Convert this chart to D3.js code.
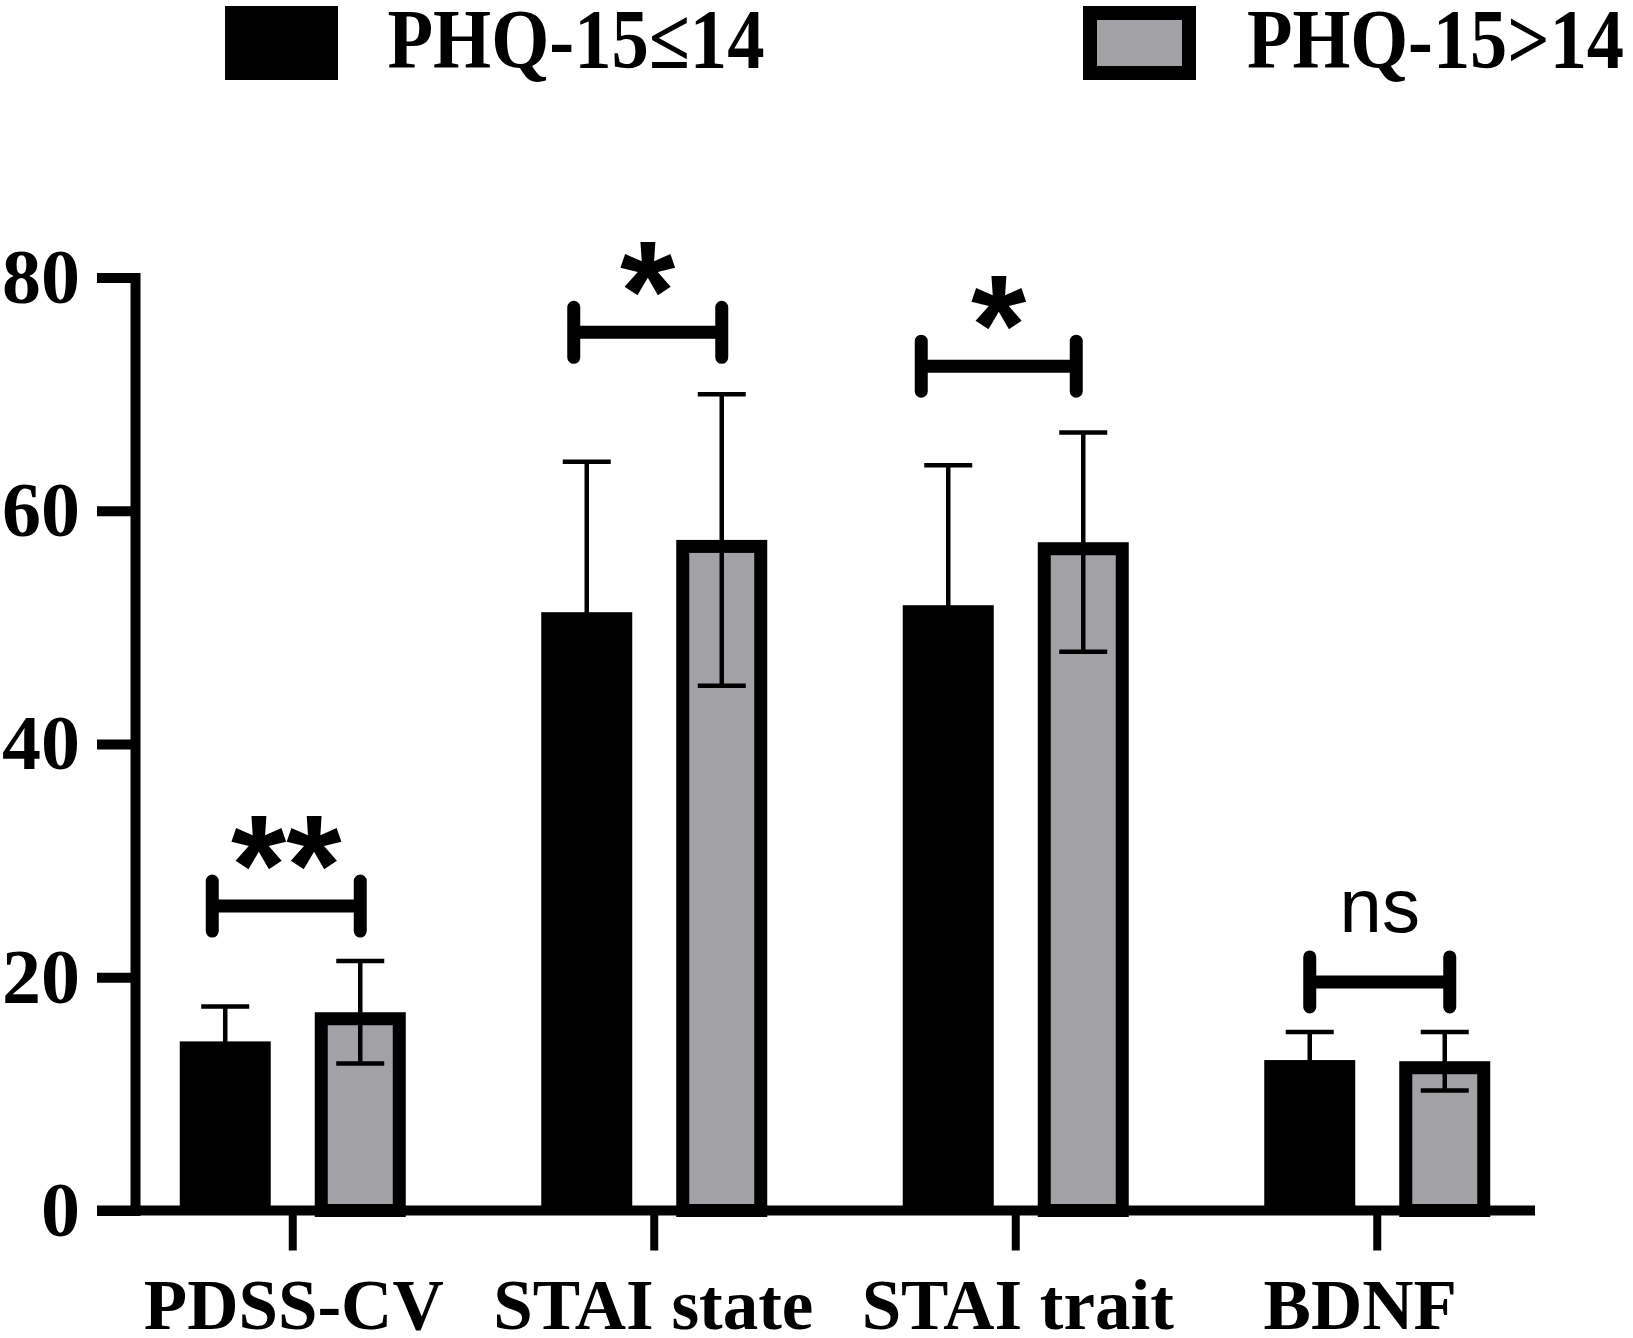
<!DOCTYPE html>
<html>
<head>
<meta charset="utf-8">
<script src="https://cdn.jsdelivr.net/npm/d3@7"></script>
<style>
  body { margin: 0; background: #fff; }
  .serif { font-family: "Liberation Serif", "Times New Roman", serif; font-weight: bold; }
  .sans { font-family: "Liberation Sans", Arial, sans-serif; }
</style>
</head>
<body>
<div id="chart"></div>
<script>
const categories = ['PDSS-CV', 'STAI state', 'STAI trait', 'BDNF']
const groups = ['PHQ-15≤14', 'PHQ-15>14']
const lowMeans = [14.5, 51.3, 51.9, 12.9]
const lowSD = [3.0, 12.9, 12.0, 2.4]
const highMeans = [17.0, 57.5, 57.3, 12.8]
const highSD = [4.4, 12.5, 9.4, 2.5]
const sigLabels = ['**', '*', '*', 'ns']
const sigLevels = [26.1, 75.3, 72.4, 19.6]
const yTicks = [0, 20, 40, 60, 80]

const dms = {
  width: 1633,
  height: 1338,
  axisX: 135,
  baseY: 1210.5,
  topY: 277.5,
  // small hand nudges of the bracket ends, left / right, in px
  bracketNudge: [[-13, 0], [-13, 0], [-27, -7], [0, 5]],
  labelNudge: [1, -1, 2, -17]
}

const grey = '#a2a1a6'

const svg = d3.select('#chart').append('svg')
    .attr('width', dms.width)
    .attr('height', dms.height)

const y = d3.scaleLinear()
    .domain([0, 80])
    .range([dms.baseY, dms.topY])

const x = d3.scaleBand()
    .domain(categories)
    .range([112, 1558])
    .padding(0)

const xg = d3.scaleBand()
    .domain(groups)
    .range([-113, 113])
    .paddingInner(0.326)

const rows = categories.flatMap((c, i) => [
  { cat: c, group: groups[0], mean: lowMeans[i], sd: lowSD[i] },
  { cat: c, group: groups[1], mean: highMeans[i], sd: highSD[i] }
])

const barLeft = d => x(d.cat) + x.bandwidth() / 2 + xg(d.group)
const barMid = d => barLeft(d) + xg.bandwidth() / 2

// bars
const bars = svg.append('g')
bars.selectAll('rect')
    .data(rows)
    .join('rect')
    .attr('x', d => d.group === groups[0] ? barLeft(d) : barLeft(d) + 6.5)
    .attr('y', d => d.group === groups[0] ? y(d.mean) : y(d.mean) + 6.5)
    .attr('width', d => d.group === groups[0] ? xg.bandwidth() : xg.bandwidth() - 13)
    .attr('height', d => d.group === groups[0] ? y(0) - y(d.mean) : y(0) - y(d.mean) - 6.5)
    .attr('fill', d => d.group === groups[0] ? '#000' : grey)
    .attr('stroke', d => d.group === groups[0] ? 'none' : '#000')
    .attr('stroke-width', 13)

// error bars
const errs = svg.append('g')
    .attr('stroke', '#000')
    .attr('stroke-width', 4.5)
    .attr('fill', 'none')

errs.selectAll('path')
    .data(rows)
    .join('path')
    .attr('d', d => {
      const cx = barMid(d), hw = 24
      const top = y(d.mean + d.sd), bot = y(d.mean - d.sd)
      return `M${cx},${bot}V${top}M${cx - hw},${top}H${cx + hw}M${cx - hw},${bot}H${cx + hw}`
    })

// axes
const yAxis = svg.append('g')
    .attr('transform', `translate(${dms.axisX},0)`)
    .call(d3.axisLeft(y).tickValues(yTicks).tickSize(38).tickPadding(17).tickSizeOuter(0))

yAxis.select('.domain')
    .attr('stroke-width', 10)
    .attr('stroke-linecap', 'square')
yAxis.selectAll('.tick line').attr('stroke-width', 10)
yAxis.selectAll('.tick text')
    .attr('class', 'serif')
    .attr('font-size', 78)
    .attr('fill', '#000')

const xAxis = svg.append('g')
    .attr('transform', `translate(0,${dms.baseY})`)
    .call(d3.axisBottom(x).tickSize(40).tickSizeOuter(0))

xAxis.select('.domain').remove()
xAxis.selectAll('.tick line').attr('stroke-width', 8)
xAxis.selectAll('.tick text')
    .attr('class', 'serif')
    .attr('font-size', 71)
    .attr('fill', '#000')
    .attr('x', (d, i) => dms.labelNudge[i])
    .attr('y', 118)
    .attr('dy', 0)

xAxis.append('line')
    .attr('x1', 97)
    .attr('x2', 1535)
    .attr('stroke', '#000')
    .attr('stroke-width', 10)

// significance brackets
const sig = svg.append('g')
categories.forEach((c, i) => {
  const x1 = barMid(rows[i * 2]) + dms.bracketNudge[i][0]
  const x2 = barMid(rows[i * 2 + 1]) + dms.bracketNudge[i][1]
  const yb = y(sigLevels[i])
  sig.append('path')
      .attr('d', `M${x1},${yb - 25}V${yb + 25}M${x1},${yb}H${x2}M${x2},${yb - 25}V${yb + 25}`)
      .attr('stroke', '#000')
      .attr('stroke-width', 13)
      .attr('stroke-linecap', 'round')
      .attr('fill', 'none')

  const isNs = sigLabels[i] === 'ns'
  sig.append('text')
      .attr('class', 'sans')
      .attr('x', (x1 + x2) / 2)
      .attr('y', isNs ? yb - 50 : yb + 8)
      .attr('text-anchor', 'middle')
      .attr('font-size', isNs ? 76 : 142)
      .attr('font-weight', isNs ? 'normal' : 'bold')
      .text(sigLabels[i])
})

// legend
const legend = svg.append('g')
const legendX = [225, 1083]
const legendTextX = [387.5, 1247]
groups.forEach((g, i) => {
  legend.append('rect')
      .attr('x', i === 0 ? legendX[i] : legendX[i] + 7)
      .attr('y', i === 0 ? 6 : 13)
      .attr('width', i === 0 ? 113 : 99)
      .attr('height', i === 0 ? 74 : 60)
      .attr('fill', i === 0 ? '#000' : grey)
      .attr('stroke', i === 0 ? 'none' : '#000')
      .attr('stroke-width', 14)

  legend.append('text')
      .attr('class', 'serif')
      .attr('x', legendTextX[i])
      .attr('y', 68)
      .attr('font-size', 84)
      .attr('textLength', 377)
      .attr('lengthAdjust', 'spacingAndGlyphs')
      .text(g)
})
</script>
</body>
</html>
